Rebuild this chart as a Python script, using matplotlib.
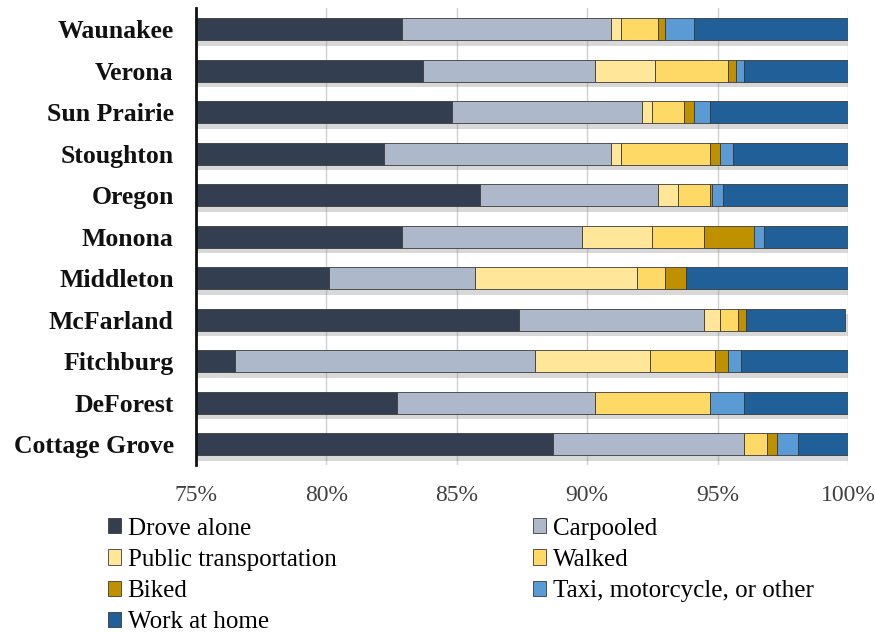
import matplotlib
matplotlib.use("Agg")
import matplotlib.pyplot as plt
import matplotlib.patheffects as pe
from matplotlib.patches import Patch
from matplotlib.ticker import FixedLocator
import numpy as np

plt.rcParams['font.family'] = ['Liberation Serif', 'DejaVu Serif']

# Commute mode shares (%) by community, bottom to top
cities = ["Cottage Grove", "DeForest", "Fitchburg", "McFarland", "Middleton",
          "Monona", "Oregon", "Stoughton", "Sun Prairie", "Verona", "Waunakee"]

drove_alone = [88.7, 82.7, 76.5, 87.4, 80.1, 82.9, 85.9, 82.2, 84.8, 83.7, 82.9]
carpooled   = [7.3, 7.6, 11.5, 7.1, 5.6, 6.9, 6.8, 8.7, 7.3, 6.6, 8.0]
public      = [0.0, 0.0, 4.4, 0.6, 6.2, 2.7, 0.8, 0.4, 0.4, 2.3, 0.4]
walked      = [0.9, 4.4, 2.5, 0.7, 1.1, 2.0, 1.2, 3.4, 1.2, 2.8, 1.4]
biked       = [0.4, 0.0, 0.5, 0.3, 0.8, 1.9, 0.1, 0.4, 0.4, 0.3, 0.3]
taxi_other  = [0.8, 1.3, 0.5, 0.0, 0.0, 0.4, 0.4, 0.5, 0.6, 0.3, 1.1]
work_home   = [1.9, 4.0, 4.1, 3.8, 6.2, 3.2, 4.8, 4.4, 5.3, 4.0, 5.9]

series = [
    ("Drove alone", drove_alone, "#333f50"),
    ("Carpooled", carpooled, "#adb9ca"),
    ("Public transportation", public, "#ffe699"),
    ("Walked", walked, "#ffd966"),
    ("Biked", biked, "#bf9000"),
    ("Taxi, motorcycle, or other", taxi_other, "#5b9bd5"),
    ("Work at home", work_home, "#215f98"),
]

x_ticks = [75, 80, 85, 90, 95, 100]
x_tick_labels = ["75%", "80%", "85%", "90%", "95%", "100%"]

fig = plt.figure(figsize=(8.75, 6.32), dpi=100)
ax = fig.add_axes([0.224, 0.264, 0.745, 0.723])

y = np.arange(len(cities))
left = np.zeros(len(cities))
shadow = [pe.SimplePatchShadow(offset=(2, -4), shadow_rgbFace="#7f7f7f", alpha=0.3),
          pe.Normal()]
for name, vals, color in series:
    vals = np.array(vals)
    bars = ax.barh(y, vals, left=left, height=0.53, color=color,
                   edgecolor="#3a3a3a", linewidth=0.6, zorder=3)
    for b in bars:
        b.set_path_effects(shadow)
    left += vals

ax.set_xlim(75, 100)
ax.set_ylim(-0.5, 10.5)
ax.xaxis.set_major_locator(FixedLocator(x_ticks))
ax.set_xticklabels(x_tick_labels, fontsize=17, color="#404040")
ax.set_yticks(y)
ax.set_yticklabels(cities, fontsize=18.5, fontweight="bold", color="#111111")
ax.tick_params(axis="both", length=0)
ax.tick_params(axis="x", pad=14)
ax.tick_params(axis="y", pad=16)

ax.grid(axis="x", color="#d0d0d0", linewidth=1.0, zorder=0)
ax.set_axisbelow(True)
for s in ["top", "right", "bottom"]:
    ax.spines[s].set_visible(False)
ax.spines["left"].set_linewidth(2.0)
ax.spines["left"].set_color("#111111")
ax.spines["left"].set_zorder(5)

# Legend laid out row by row in two columns
handles = {name: Patch(facecolor=color, edgecolor="#3a3a3a", linewidth=0.6)
           for name, _, color in series}
order = ["Drove alone", "Public transportation", "Biked", "Work at home",
         "Carpooled", "Walked", "Taxi, motorcycle, or other"]
fig.legend([handles[n] for n in order], order, ncol=2, frameon=False,
           loc="upper left", bbox_to_anchor=(0.123, 0.181), fontsize=18,
           handlelength=0.55, handleheight=0.55, handletextpad=0.25,
           columnspacing=7.85, labelspacing=0.37, borderaxespad=0, borderpad=0)

fig.savefig("out.png", dpi=100)
